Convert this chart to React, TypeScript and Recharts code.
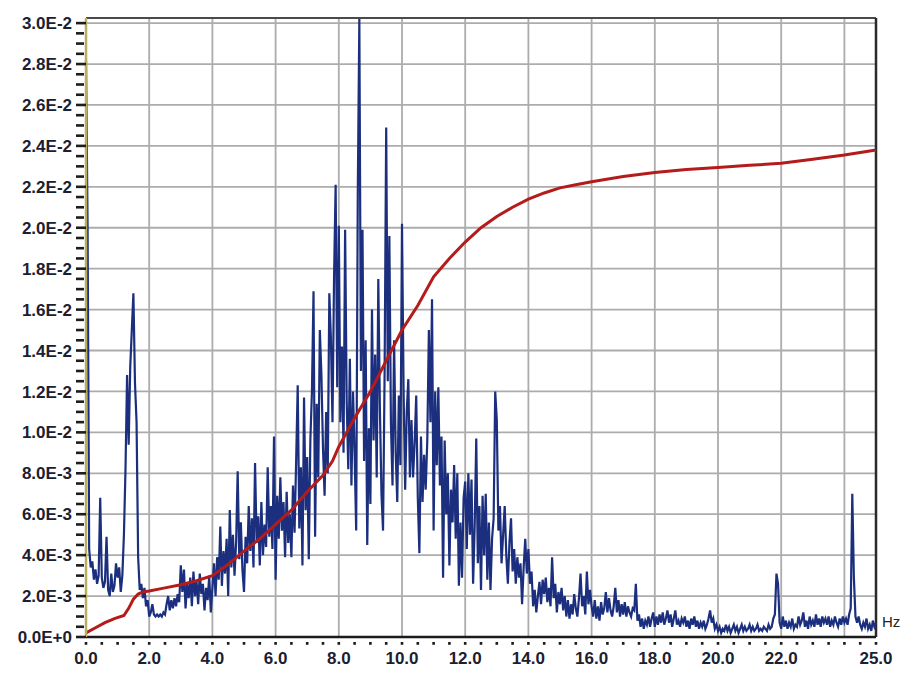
import { LineChart, Line, XAxis, YAxis, CartesianGrid, ReferenceLine, Label } from 'recharts'

// spectrum amplitude, in units of 1E-3, one value every 0.05 Hz from 0 to 25 Hz
const FREQ_STEP = 0.05
const AMPLITUDE = [
  28.2, 20.1, 4.3, 3.4, 3.7, 2.8, 3.3, 2.6, 3.0, 6.8, 2.9, 2.4, 2.7, 4.9, 2.3, 2.0, 3.1, 2.2, 2.5, 3.6,
  2.9, 3.4, 2.2, 3.0, 5.0, 8.2, 12.8, 9.4, 13.2, 15.0, 16.8, 12.4, 10.5, 3.9, 2.3, 2.6, 1.9, 2.4, 1.5, 1.8,
  1.0, 1.2, 1.6, 1.1, 1.0, 1.1, 1.0, 1.1, 1.0, 1.2, 1.1, 1.6, 2.0, 1.3, 1.8, 1.4, 1.9, 1.5, 2.1, 1.7,
  3.5, 2.2, 3.3, 1.4, 2.6, 1.9, 2.9, 1.5, 3.2, 2.0, 2.7, 1.6, 3.1, 2.1, 2.6, 1.3, 2.4, 1.8, 3.0, 1.2,
  2.4, 3.6, 2.0, 3.9, 2.8, 5.4, 2.5, 4.2, 3.1, 4.8, 2.0, 6.2, 3.4, 5.0, 3.0, 4.6, 8.1, 3.8, 5.6, 3.3,
  2.2, 4.9, 3.6, 6.4, 4.2, 5.8, 3.4, 8.5, 4.6, 5.9, 3.5, 6.6, 4.0, 5.5, 4.4, 8.3, 4.9, 6.4, 4.3, 9.8,
  2.8, 6.9, 4.8, 7.8, 5.2, 6.6, 3.9, 7.1, 4.6, 6.0, 3.9, 7.4, 5.1, 8.6, 12.3, 5.3, 8.3, 3.5, 11.7, 6.2,
  8.8, 3.8, 9.6, 12.0, 16.9, 4.9, 11.4, 7.8, 15.0, 12.8, 9.2, 6.9, 11.0, 8.0, 16.8, 14.6, 10.5, 17.6, 22.1, 12.2,
  20.1, 10.5, 14.2, 9.0, 19.9, 11.5, 8.2, 13.6, 7.4, 12.0, 9.0, 5.2, 21.5, 30.2, 13.0, 19.9, 8.6, 14.5, 4.5, 10.2,
  6.5, 16.0, 9.6, 13.8, 7.8, 17.5, 11.2, 7.0, 5.2, 13.0, 24.9, 12.5, 19.6, 10.4, 7.4, 14.5, 9.0, 6.6, 11.8, 8.4,
  20.2, 12.0, 7.2, 11.0, 12.6, 7.8, 10.6, 7.8, 9.5, 11.8, 6.8, 4.1, 9.8, 6.6, 8.9, 7.2, 9.6, 15.0, 10.5, 16.5,
  5.2, 12.0, 8.4, 12.2, 7.4, 9.8, 2.9, 9.6, 6.0, 8.0, 3.5, 7.2, 5.6, 8.4, 4.8, 8.0, 2.5, 5.6, 2.9, 6.8,
  7.6, 4.3, 8.0, 5.0, 7.7, 2.6, 5.4, 9.7, 3.6, 6.4, 2.3, 6.9, 4.0, 7.0, 2.8, 5.6, 2.3, 4.8, 5.8, 12.0,
  10.6, 5.2, 6.4, 3.6, 5.0, 6.4, 4.0, 2.6, 4.6, 5.8, 3.2, 4.3, 2.6, 3.9, 2.9, 3.6, 1.6, 3.4, 4.8, 3.1,
  4.3, 2.6, 3.2, 1.5, 2.3, 1.2, 2.0, 2.7, 1.6, 2.8, 2.1, 2.9, 1.7, 2.4, 1.5, 3.9, 1.9, 2.6, 1.2, 2.2,
  1.6, 2.4, 1.3, 2.0, 1.0, 1.8, 0.9, 1.6, 1.1, 2.1, 1.4, 1.0, 1.9, 3.1, 1.5, 2.0, 1.1, 3.2, 1.6, 2.3,
  1.5, 1.0, 1.8, 0.9, 1.5, 0.8, 1.7, 1.1, 1.4, 2.2, 1.2, 1.9, 1.3, 1.0, 1.5, 2.4, 1.2, 1.8, 1.0, 1.6,
  1.1, 1.7, 1.0, 1.5, 1.2, 1.0, 1.4, 1.3, 2.6, 0.8, 1.1, 0.5, 0.9, 0.4, 0.8, 0.6, 1.0, 0.5, 0.9, 1.2,
  0.5, 1.0, 0.6, 1.1, 0.7, 1.2, 0.6, 0.9, 1.3, 0.7, 1.1, 0.5, 0.9, 1.3, 0.6, 0.8, 0.5, 0.9, 0.7, 1.0,
  0.5, 0.8, 0.4, 0.9, 0.6, 1.0, 0.5, 0.8, 0.4, 0.7, 0.5, 0.8, 0.4, 0.6, 0.9, 1.3, 0.7, 0.9, 0.4, 0.6,
  0.3, 0.5, 0.2, 0.4, 0.3, 0.6, 0.3, 0.5, 0.2, 0.4, 0.6, 0.3, 0.5, 0.2, 0.4, 0.6, 0.3, 0.5, 0.3, 0.4,
  0.6, 0.3, 0.5, 0.3, 0.4, 0.6, 0.3, 0.4, 0.3, 0.5, 0.4, 0.3, 0.6, 0.4, 0.5, 0.9, 1.1, 3.1, 2.6, 0.7,
  0.4, 1.0, 0.5, 0.8, 0.4, 0.7, 0.5, 0.9, 0.4, 0.6, 0.5, 1.0, 0.6, 0.8, 1.2, 0.5, 0.8, 0.4, 1.0, 0.6,
  0.8, 0.5, 1.1, 0.6, 0.9, 0.5, 1.0, 0.7, 0.9, 0.6, 1.0, 0.5, 0.8, 0.6, 1.0, 0.7, 0.5, 0.9, 0.6, 1.0,
  0.7, 0.9, 0.6, 1.1, 1.4, 7.0, 2.9, 1.0, 0.7, 1.0, 0.6, 0.4, 0.7, 0.5, 0.9, 0.4, 0.6, 0.3, 0.8, 0.5,
  0.7,
]

// cumulative curve (red), also in 1E-3
const CUM_FREQ = [
  0, 0.3, 0.6, 0.9, 1.2, 1.35, 1.5, 1.65, 1.8, 2.0, 2.5, 3.0, 3.5, 4.0, 4.5, 5.0, 5.5, 6.0, 6.5, 7.0,
  7.5, 7.8, 8.0, 8.5, 9.0, 9.5, 10.0, 10.5, 11.0, 11.5, 12.0, 12.5, 13.0, 13.5, 14.0, 14.5, 15.0, 15.5,
  16.0, 17.0, 18.0, 19.0, 20.0, 21.0, 22.0, 23.0, 24.0, 25.0,
]
const CUM_VALUE = [
  0.2, 0.45, 0.7, 0.9, 1.05, 1.4, 1.85, 2.1, 2.2, 2.25, 2.4, 2.55, 2.75, 3.0, 3.55, 4.2, 4.8, 5.5, 6.2, 7.1,
  7.9, 8.6, 9.3, 10.7, 12.0, 13.5, 15.0, 16.2, 17.6, 18.5, 19.3, 20.0, 20.55, 21.0, 21.4, 21.7, 21.95, 22.1,
  22.25, 22.5, 22.7, 22.85, 22.95, 23.05, 23.15, 23.35, 23.55, 23.8,
]

const X_LABELS = [0, 2, 4, 6, 8, 10, 12, 14, 16, 18, 20, 22, 25]
const X_GRID = [2, 4, 6, 8, 10, 12, 14, 16, 18, 20, 22, 24]
const Y_LABELS = [0, 2, 4, 6, 8, 10, 12, 14, 16, 18, 20, 22, 24, 26, 28, 30]

const X_TICKS = Array.from({ length: 51 }, (_, i) => i * 0.5)
const Y_TICKS = Array.from({ length: 61 }, (_, i) => i * 0.5)

const spectrum = AMPLITUDE.map((v, i) => ({ f: i * FREQ_STEP, v }))
const cumulative = CUM_FREQ.map((f, i) => ({ f, v: CUM_VALUE[i] }))

const FONT = "'Liberation Sans', Arial, sans-serif"
const LABEL_COLOR = '#1b2030'
const TICK_COLOR = '#1d1d1d'

function formatY(v: number) {
  if (v === 0) return '0.0E+0'
  if (v < 10) return `${v.toFixed(1)}E-3`
  return `${(v / 10).toFixed(1)}E-2`
}

function YTick(props: any) {
  const { x, y, payload } = props
  const major = Y_LABELS.includes(payload.value)
  return (
    <g>
      <rect x={Number(x) + 4} y={Number(y) - 1.3} width={major ? 10 : 8} height={2.6} fill={TICK_COLOR} />
      {major && (
        <text x={x} y={y} dy="0.36em" textAnchor="end" fontFamily={FONT} fontWeight={700} fontSize={17} fill={LABEL_COLOR}>
          {formatY(payload.value)}
        </text>
      )}
    </g>
  )
}

function XTick(props: any) {
  const { x, y, payload } = props
  const showLabel = X_LABELS.includes(payload.value)
  return (
    <g>
      <rect x={Number(x) - 1.3} y={Number(y) + 5} width={2.6} height={2.8} fill={TICK_COLOR} />
      {showLabel && (
        <text x={x} y={y} dy={27} textAnchor="middle" fontFamily={FONT} fontWeight={700} fontSize={17} fill={LABEL_COLOR}>
          {payload.value.toFixed(1)}
        </text>
      )}
    </g>
  )
}

function HzLabel(props: any) {
  const { viewBox } = props
  return (
    <text x={viewBox.x + viewBox.width + 6} y={viewBox.y - 10} fontFamily={FONT} fontSize={15} fill="#222">
      Hz
    </text>
  )
}

export default function App() {
  return (
    <div style={{ position: 'absolute', left: 0, top: 0, width: 901, height: 684, background: '#fff' }}>
      <LineChart width={901} height={684} margin={{ top: 18, right: 25, bottom: 7, left: 0 }}>
        <CartesianGrid stroke="#acacac" strokeWidth={1.8} horizontalValues={Y_LABELS} verticalValues={X_GRID} />
        <XAxis
          type="number"
          dataKey="f"
          domain={[0, 25]}
          ticks={X_TICKS}
          interval={0}
          height={40}
          tickSize={0}
          tickMargin={0}
          tickLine={false}
          tick={<XTick />}
          axisLine={{ stroke: '#1b1b1b', strokeWidth: 2.5 }}
        >
          <Label content={<HzLabel />} />
        </XAxis>
        <YAxis
          type="number"
          domain={[0, 30.25]}
          ticks={Y_TICKS}
          interval={0}
          width={86}
          tickSize={9}
          tickMargin={5}
          tickLine={false}
          tick={<YTick />}
          axisLine={{ stroke: '#b7ae5f', strokeWidth: 2.5 }}
        />
        <ReferenceLine y={30.25} stroke="#4a4a4a" strokeWidth={2} />
        <ReferenceLine x={25} stroke="#2a2a2a" strokeWidth={2.5} />
        <Line
          data={spectrum}
          dataKey="v"
          type="linear"
          stroke="#1b2f7e"
          strokeWidth={2.2}
          dot={false}
          activeDot={false}
          isAnimationActive={false}
        />
        <Line
          data={cumulative}
          dataKey="v"
          type="linear"
          stroke="#b41b1b"
          strokeWidth={3}
          dot={false}
          activeDot={false}
          isAnimationActive={false}
        />
      </LineChart>
    </div>
  )
}
